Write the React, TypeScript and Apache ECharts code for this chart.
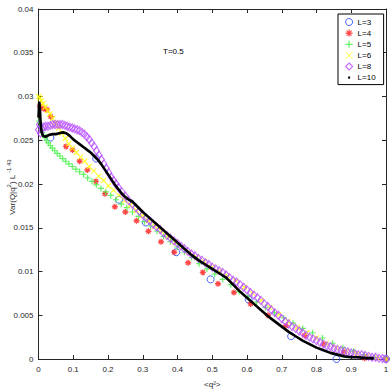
import React, { useEffect, useRef } from 'react';
import * as echarts from 'echarts';

const xTicks = [0, 0.1, 0.2, 0.3, 0.4, 0.5, 0.6, 0.7, 0.8, 0.9, 1];
const yTicks = [0, 0.005, 0.01, 0.015, 0.02, 0.025, 0.03, 0.035, 0.04];
const seriesNames = ['L=3', 'L=4', 'L=5', 'L=6', 'L=8', 'L=10'];

const L3: number[][] = [
  [0.0343, 0.0253], [0.166, 0.0229], [0.2318, 0.0182], [0.3086, 0.0156], [0.3964, 0.0122],
  [0.4952, 0.0091], [0.6049, 0.0068], [0.727, 0.0026], [0.8573, 0.0], [1.0, 0.0],
];

const L4: number[][] = [
  [0.0039, 0.0289], [0.0156, 0.0286], [0.0244, 0.0285], [0.0352, 0.0277], [0.0791, 0.0243],
  [0.0977, 0.0239], [0.1182, 0.0226], [0.1406, 0.0216], [0.165, 0.0203], [0.1914, 0.0189],
  [0.2197, 0.0174], [0.25, 0.0168], [0.2822, 0.0158], [0.3164, 0.0146], [0.3525, 0.0134],
  [0.3906, 0.0122], [0.4307, 0.011], [0.4727, 0.0099], [0.5166, 0.0086], [0.5625, 0.0076],
  [0.6104, 0.0063], [0.6602, 0.005], [0.7119, 0.0038], [0.7656, 0.0027], [0.8213, 0.0017],
  [0.8789, 0.0008], [0.9385, 0.0001], [1.0, 0.0],
];

const L5: number[][] = [
  [0.0016, 0.0272], [0.0031, 0.027], [0.0052, 0.0266], [0.0077, 0.0262], [0.0108, 0.0259],
  [0.0144, 0.0256], [0.0185, 0.0253], [0.0231, 0.025], [0.0282, 0.0247], [0.0339, 0.0244],
  [0.04, 0.0241], [0.0467, 0.0238], [0.0538, 0.0235], [0.0615, 0.0232], [0.0697, 0.0229],
  [0.0784, 0.0226], [0.0876, 0.0223], [0.0973, 0.022], [0.1076, 0.0217], [0.1183, 0.0214],
  [0.1296, 0.0211], [0.1414, 0.0207], [0.1537, 0.0203], [0.1665, 0.0199], [0.1798, 0.0195],
  [0.1936, 0.0191], [0.2079, 0.0187], [0.2228, 0.0182], [0.2381, 0.0177], [0.254, 0.0173],
  [0.2704, 0.0168], [0.2873, 0.0163], [0.3047, 0.0157], [0.3226, 0.0152], [0.341, 0.0146],
  [0.36, 0.014], [0.3795, 0.0134], [0.3994, 0.0128], [0.4199, 0.0122], [0.4409, 0.0116],
  [0.4624, 0.0109], [0.4844, 0.0103], [0.507, 0.0097], [0.53, 0.0091], [0.5535, 0.0085],
  [0.5776, 0.0077], [0.6022, 0.0071], [0.6273, 0.0065], [0.6529, 0.0059], [0.679, 0.0053],
  [0.7056, 0.0047], [0.7327, 0.0041], [0.7604, 0.0035], [0.7885, 0.003], [0.8172, 0.0024],
  [0.8464, 0.0018], [0.8761, 0.0013], [0.9063, 0.0009], [0.937, 0.0005], [0.9683, 0.0002],
  [1.0, 0.0001],
];

const L6: number[][] = [
  [0.001, 0.03], [0.004, 0.0298], [0.008, 0.0295], [0.013, 0.0292], [0.019, 0.0288],
  [0.026, 0.0284], [0.033, 0.028], [0.041, 0.0275], [0.049, 0.027], [0.058, 0.0264],
  [0.067, 0.0258], [0.077, 0.0252], [0.087, 0.0246], [0.098, 0.0241], [0.109, 0.0236],
  [0.121, 0.0231], [0.133, 0.0226], [0.146, 0.022], [0.159, 0.0215], [0.173, 0.0209],
  [0.187, 0.0204], [0.201, 0.0198], [0.216, 0.0193], [0.232, 0.0187], [0.248, 0.0181],
  [0.264, 0.0176], [0.281, 0.017], [0.299, 0.0164], [0.317, 0.0158], [0.335, 0.0152],
  [0.354, 0.0146], [0.373, 0.014], [0.393, 0.0134], [0.413, 0.0128], [0.434, 0.0122],
  [0.455, 0.0116], [0.477, 0.0111], [0.499, 0.0105], [0.521, 0.01], [0.544, 0.0095],
  [0.568, 0.0089], [0.592, 0.0082], [0.616, 0.0075], [0.641, 0.0067], [0.666, 0.0059],
  [0.692, 0.0051], [0.718, 0.0043], [0.745, 0.0036], [0.772, 0.003], [0.8, 0.0024],
  [0.828, 0.0018], [0.857, 0.0013], [0.886, 0.0009], [0.915, 0.0006], [0.945, 0.0003],
  [0.975, 0.0001], [1.0, 0.0],
];

const L8: number[][] = [
  [0.0, 0.0262], [0.003, 0.0268], [0.006, 0.0258], [0.01, 0.0263], [0.015, 0.0265],
  [0.02, 0.0266], [0.027, 0.0266], [0.034, 0.0267], [0.041, 0.0268], [0.048, 0.0268],
  [0.055, 0.0268], [0.062, 0.0268], [0.069, 0.0268], [0.076, 0.0267], [0.083, 0.0266],
  [0.09, 0.0265], [0.097, 0.0264], [0.104, 0.0263], [0.111, 0.0262], [0.118, 0.0261],
  [0.125, 0.0259], [0.132, 0.0257], [0.139, 0.0254], [0.146, 0.0251], [0.153, 0.0247],
  [0.16, 0.0243], [0.167, 0.0238], [0.174, 0.0233], [0.181, 0.0228], [0.188, 0.0223],
  [0.195, 0.0218], [0.202, 0.0213], [0.209, 0.0208], [0.216, 0.0204], [0.223, 0.02],
  [0.23, 0.0196], [0.24, 0.0191], [0.25, 0.0186], [0.26, 0.0181], [0.27, 0.0177],
  [0.28, 0.0173], [0.29, 0.0169], [0.3, 0.0165], [0.31, 0.0161], [0.32, 0.0158],
  [0.33, 0.0154], [0.34, 0.0151], [0.35, 0.0148], [0.36, 0.0144], [0.37, 0.0141],
  [0.38, 0.0138], [0.39, 0.0135], [0.4, 0.0132], [0.41, 0.0129], [0.42, 0.0126],
  [0.43, 0.0123], [0.44, 0.012], [0.45, 0.0118], [0.46, 0.0115], [0.47, 0.0113],
  [0.48, 0.011], [0.49, 0.0108], [0.5, 0.0105], [0.51, 0.0103], [0.52, 0.0101],
  [0.53, 0.0099], [0.54, 0.0096], [0.55, 0.0093], [0.56, 0.009], [0.57, 0.0088],
  [0.58, 0.0085], [0.59, 0.0082], [0.6, 0.0079], [0.61, 0.0076], [0.62, 0.0073],
  [0.63, 0.007], [0.64, 0.0067], [0.65, 0.0063], [0.66, 0.006], [0.67, 0.0056],
  [0.68, 0.0053], [0.69, 0.005], [0.7, 0.0046], [0.71, 0.0043], [0.72, 0.004],
  [0.73, 0.0037], [0.74, 0.0035], [0.75, 0.0032], [0.76, 0.003], [0.77, 0.0027],
  [0.78, 0.0025], [0.79, 0.0023], [0.8, 0.0021], [0.81, 0.0019], [0.82, 0.0017],
  [0.83, 0.0015], [0.84, 0.0014], [0.85, 0.0012], [0.86, 0.0011], [0.87, 0.001],
  [0.88, 0.0009], [0.89, 0.0008], [0.9, 0.0007], [0.91, 0.0006], [0.92, 0.0005],
  [0.93, 0.0005], [0.94, 0.0004], [0.95, 0.0003], [0.96, 0.0002], [0.97, 0.0002],
  [0.98, 0.0001], [0.99, 0.00005], [1.0, 0.0],
];

const L10: number[][] = [
  [0.0, 0.0276], [0.002, 0.0294], [0.004, 0.0287], [0.006, 0.027], [0.009, 0.0259],
  [0.013, 0.0255], [0.02, 0.0254], [0.03, 0.0256], [0.04, 0.0257], [0.05, 0.0257],
  [0.06, 0.0258], [0.07, 0.0259], [0.08, 0.0258], [0.09, 0.0255], [0.1, 0.0251],
  [0.11, 0.0248], [0.12, 0.0245], [0.13, 0.0242], [0.14, 0.0239], [0.15, 0.0236],
  [0.16, 0.0232], [0.17, 0.0228], [0.18, 0.0223], [0.19, 0.0217], [0.2, 0.0211],
  [0.21, 0.0205], [0.22, 0.0199], [0.23, 0.0194], [0.24, 0.0189], [0.25, 0.0185],
  [0.26, 0.0182], [0.27, 0.018], [0.28, 0.0176], [0.29, 0.0172], [0.3, 0.0168],
  [0.32, 0.0161], [0.34, 0.0154], [0.36, 0.0147], [0.38, 0.014], [0.4, 0.0133],
  [0.42, 0.0126], [0.44, 0.0119], [0.46, 0.0113], [0.48, 0.0108], [0.5, 0.0103],
  [0.52, 0.0098], [0.54, 0.0093], [0.56, 0.0085], [0.58, 0.0077], [0.6, 0.007],
  [0.62, 0.0063], [0.64, 0.0056], [0.66, 0.0049], [0.68, 0.0043], [0.7, 0.0037],
  [0.72, 0.0031], [0.74, 0.0026], [0.76, 0.0021], [0.78, 0.0017], [0.8, 0.0013],
  [0.82, 0.001], [0.84, 0.0007], [0.86, 0.0005], [0.88, 0.0003], [0.9, 0.0002],
  [0.92, 0.0002], [0.94, 0.0001], [0.965, 0.0001],
];

const FONT = '"Liberation Sans", Arial, Helvetica, sans-serif';
const AXIS_COLOR = '#262626';

const STAR = 'path://M5 0L5 10M0 5L10 5M1.5 1.5L8.5 8.5M8.5 1.5L1.5 8.5';
const PLUS = 'path://M5 0L5 10M0 5L10 5';
const CROSS = 'path://M0 0L10 10M10 0L0 10';
const DOT = 'path://M0 0M10 10M3.5 3.5L6.5 3.5L6.5 6.5L3.5 6.5Z';

const COLORS = {
  L3: '#1f3cff',
  L4: '#ff1a1a',
  L5: '#3cf03c',
  L6: '#ffff00',
  L8: '#b84dff',
  L10: '#000000',
};

function hollow(color: string, w = 1) {
  return { color: 'rgba(0,0,0,0)', borderColor: color, borderWidth: w };
}

export default function App() {
  const ref = useRef<HTMLDivElement>(null);
  useEffect(() => {
    const chart = echarts.init(ref.current!, null, { renderer: 'svg' });
    const axisCommon = {
      type: 'value' as const,
      splitLine: { show: false },
      axisLine: { show: true, onZero: false, lineStyle: { color: AXIS_COLOR, width: 1 } },
      axisTick: { show: true, inside: true, length: 4, lineStyle: { color: AXIS_COLOR, width: 1 } },
    };
    const option: any = {
      animation: false,
      backgroundColor: '#ffffff',
      textStyle: { fontFamily: FONT },
      grid: { left: 38.5, right: 6, top: 9, bottom: 33, containLabel: false, outerBoundsMode: 'none' },
      graphic: [
        {
          type: 'text',
          left: 163,
          top: 47,
          style: { text: 'T=0.5', fontSize: 8, fill: '#000', fontFamily: FONT },
        },
        {
          type: 'text',
          x: 11,
          y: 187,
          rotation: Math.PI / 2,
          style: {
            text: '{a|Var(Q|q}{s|2}{a|) L}{s| -1.43}',
            align: 'center',
            verticalAlign: 'middle',
            fill: AXIS_COLOR,
            fontFamily: FONT,
            rich: {
              a: { fontSize: 8, fill: AXIS_COLOR, fontFamily: FONT, lineHeight: 11, verticalAlign: 'bottom' },
              s: { fontSize: 6, fill: AXIS_COLOR, fontFamily: FONT, lineHeight: 7, verticalAlign: 'top' },
            },
          },
        },
      ],
      legend: {
        orient: 'vertical',
        left: 338,
        top: 14,
        padding: [4, 8, 3, 7],
        itemWidth: 7,
        itemHeight: 7,
        itemGap: 3,
        borderColor: '#000',
        borderWidth: 1,
        backgroundColor: '#fff',
        textStyle: { fontSize: 8, color: '#000', fontFamily: FONT },
        data: [
          { name: seriesNames[0], icon: 'circle', itemStyle: hollow(COLORS.L3) },
          { name: seriesNames[1], icon: STAR, itemStyle: hollow(COLORS.L4, 1.2) },
          { name: seriesNames[2], icon: PLUS, itemStyle: hollow(COLORS.L5, 1.2) },
          { name: seriesNames[3], icon: CROSS, itemStyle: hollow(COLORS.L6, 1) },
          { name: seriesNames[4], icon: 'diamond', itemStyle: hollow(COLORS.L8, 1.2) },
          { name: seriesNames[5], icon: DOT, itemStyle: { color: '#000' } },
        ],
      },
      xAxis: [
        {
          ...axisCommon,
          min: 0,
          max: 1,
          interval: 0.1,
          position: 'bottom',
          axisLabel: {
            fontSize: 8,
            color: AXIS_COLOR,
            margin: 6,
            fontFamily: FONT,
            formatter: (v: number) => {
              const t = xTicks.find((k) => Math.abs(k - v) < 1e-9);
              return t === undefined ? '' : String(t);
            },
          },
          name: '<q²>',
          nameLocation: 'middle',
          nameGap: 21,
          nameTextStyle: { fontSize: 8, color: AXIS_COLOR, fontFamily: FONT },
        },
        {
          ...axisCommon,
          min: 0,
          max: 1,
          interval: 0.1,
          position: 'top',
          axisLabel: { show: false },
        },
      ],
      yAxis: [
        {
          ...axisCommon,
          min: 0,
          max: 0.04,
          interval: 0.005,
          position: 'left',
          axisLabel: {
            fontSize: 8,
            color: AXIS_COLOR,
            margin: 5,
            fontFamily: FONT,
            formatter: (v: number) => {
              const t = yTicks.find((k) => Math.abs(k - v) < 1e-9);
              return t === undefined ? '' : String(t);
            },
          },
        },
        {
          ...axisCommon,
          min: 0,
          max: 0.04,
          interval: 0.005,
          position: 'right',
          axisLabel: { show: false },
        },
      ],
      series: [
        {
          name: seriesNames[0],
          type: 'scatter',
          data: L3,
          symbol: 'circle',
          symbolSize: 7,
          itemStyle: hollow(COLORS.L3),
        },
        {
          name: seriesNames[1],
          type: 'scatter',
          data: L4,
          symbol: STAR,
          symbolSize: 6,
          itemStyle: hollow(COLORS.L4, 1.3),
        },
        {
          name: seriesNames[2],
          type: 'scatter',
          data: L5,
          symbol: PLUS,
          symbolSize: 6,
          itemStyle: hollow(COLORS.L5, 1.2),
        },
        {
          name: seriesNames[3],
          type: 'scatter',
          data: L6,
          symbol: CROSS,
          symbolSize: 5,
          itemStyle: hollow(COLORS.L6, 1.2),
        },
        {
          name: seriesNames[4],
          type: 'scatter',
          data: L8,
          symbol: 'diamond',
          symbolSize: [6, 8],
          itemStyle: hollow(COLORS.L8, 1.2),
        },
        {
          name: seriesNames[5],
          type: 'line',
          data: L10,
          showSymbol: false,
          symbol: 'none',
          lineStyle: { color: COLORS.L10, width: 2.6 },
          itemStyle: { color: '#000' },
        },
      ],
    };
    chart.setOption(option);
    return () => chart.dispose();
  }, []);
  return (
    <div
      ref={ref}
      style={{ position: 'absolute', left: 0, top: 0, width: 392, height: 392, background: '#fff' }}
    />
  );
}
